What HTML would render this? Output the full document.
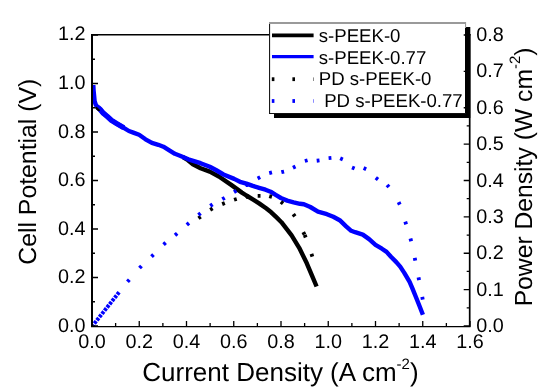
<!DOCTYPE html>
<html><head><meta charset="utf-8"><title>Fuel cell polarization curve</title>
<style>html,body{margin:0;padding:0;background:#fff;width:550px;height:392px;overflow:hidden}svg{display:block;will-change:transform}text{font-family:"Liberation Sans",sans-serif;fill:#000;text-rendering:geometricPrecision}</style>
</head><body>
<svg width="550" height="392" viewBox="0 0 550 392">
<rect width="550" height="392" fill="#fff"/>
<polyline points="183.0,157.1 188.0,160.2 192.9,164.2 200.6,168.2 209.8,171.6 218.9,176.5 231.2,184.9 241.9,192.6 246.4,195.5 252.8,199.4 259.1,203.4 266.1,208.3 271.2,212.3 276.3,217.2 281.4,222.2 286.6,228.8 291.6,235.4 299.2,247.8 306.8,263.3 311.9,275.3 316.6,286.5" fill="none" stroke="#000" stroke-width="4.4" stroke-linejoin="round" stroke-linecap="butt"/>
<circle cx="247.3" cy="197.3" r="1.5" fill="#000"/>
<polyline points="93.3,85.0 93.6,90.6 94.1,95.6 94.6,101.2 95.8,104.8 97.7,107.2 100.2,109.5 103.3,113.2 107.3,116.5 111.4,120.3 116.5,123.5 120.8,126.0 123.8,127.8 128.9,131.0 134.0,132.9 139.1,134.8 145.5,139.3 151.9,142.9 158.3,144.8 163.4,146.7 168.5,149.9 174.9,153.8 180.0,155.7 188.3,159.3 200.6,163.2 209.8,166.8 215.9,170.0 223.5,174.5 234.2,178.9 240.0,181.8 246.4,183.6 252.8,185.9 259.1,187.8 265.5,189.7 270.6,191.7 275.7,194.9 280.9,198.0 287.2,200.6 293.6,202.3 300.0,203.8 303.9,204.2 310.3,207.0 318.0,211.7 326.9,214.2 333.3,216.8 339.7,220.2 346.1,226.3 351.2,230.8 355.1,232.2 362.8,234.6 369.1,239.1 375.5,244.9 381.9,248.7 386.6,251.9 391.2,257.0 396.3,262.1 400.2,266.6 404.3,272.9 409.6,281.9 412.3,288.1 415.9,297.0 419.5,306.0 422.9,314.7" fill="none" stroke="#0000ff" stroke-width="4.4" stroke-linejoin="round" stroke-linecap="butt"/>
<circle cx="246.9" cy="185.4" r="1.5" fill="#0000ff"/>
<polyline points="97.7,107.2 100.2,109.5 103.3,113.2 107.3,116.5 111.4,120.3 116.5,123.5 120.8,126.0 123.8,127.8" fill="none" stroke="#0000ff" stroke-width="5.4" stroke-linejoin="round" stroke-linecap="butt"/>
<line x1="96.2" y1="107.9" x2="98.8" y2="110.2" stroke="#000" stroke-width="2.2" stroke-linecap="round"/>
<rect x="198.20" y="215.60" width="2.80" height="3.80" fill="#000" transform="rotate(-35.4 199.60 217.50)"/>
<rect x="210.00" y="207.20" width="2.80" height="3.80" fill="#000" transform="rotate(-30.2 211.40 209.10)"/>
<rect x="222.10" y="201.70" width="2.80" height="3.80" fill="#000" transform="rotate(-22.0 223.50 203.60)"/>
<rect x="234.00" y="197.50" width="2.80" height="3.80" fill="#000" transform="rotate(-16.1 235.40 199.40)"/>
<rect x="246.30" y="194.70" width="2.80" height="3.80" fill="#000" transform="rotate(-8.4 247.70 196.60)"/>
<rect x="257.70" y="194.00" width="2.80" height="3.80" fill="#000" transform="rotate(-0.3 259.10 195.90)"/>
<rect x="269.20" y="194.60" width="2.80" height="3.80" fill="#000" transform="rotate(16.5 270.60 196.50)"/>
<rect x="280.60" y="200.80" width="2.80" height="3.80" fill="#000" transform="rotate(38.5 282.00 202.70)"/>
<rect x="292.70" y="213.30" width="2.80" height="3.80" fill="#000" transform="rotate(54.5 294.10 215.20)"/>
<rect x="302.50" y="231.50" width="2.80" height="3.80" fill="#000" transform="rotate(62.1 303.90 233.40)"/>
<rect x="303.80" y="234.30" width="2.80" height="3.80" fill="#000" transform="rotate(69.8 305.20 236.20)"/>
<rect x="310.50" y="253.30" width="2.80" height="3.80" fill="#000" transform="rotate(70.6 311.90 255.20)"/>
<line x1="119.1" y1="292.2" x2="93.0" y2="325.2" stroke="#0000ff" stroke-width="3.9" stroke-dasharray="3.0 1.1"/>
<rect x="127.00" y="278.80" width="2.80" height="3.80" fill="#0000ff" transform="rotate(-48.5 128.40 280.70)"/>
<rect x="139.10" y="265.10" width="2.80" height="3.80" fill="#0000ff" transform="rotate(-46.1 140.50 267.00)"/>
<rect x="151.10" y="253.80" width="2.80" height="3.80" fill="#0000ff" transform="rotate(-44.2 152.50 255.70)"/>
<rect x="163.20" y="241.70" width="2.80" height="3.80" fill="#0000ff" transform="rotate(-42.2 164.60 243.60)"/>
<rect x="174.70" y="232.40" width="2.80" height="3.80" fill="#0000ff" transform="rotate(-40.2 176.10 234.30)"/>
<rect x="186.50" y="222.00" width="2.80" height="3.80" fill="#0000ff" transform="rotate(-40.8 187.90 223.90)"/>
<rect x="198.10" y="212.20" width="2.80" height="3.80" fill="#0000ff" transform="rotate(-38.5 199.50 214.10)"/>
<rect x="210.00" y="203.30" width="2.80" height="3.80" fill="#0000ff" transform="rotate(-33.0 211.40 205.20)"/>
<rect x="222.10" y="196.60" width="2.80" height="3.80" fill="#0000ff" transform="rotate(-30.1 223.50 198.50)"/>
<rect x="233.80" y="189.50" width="2.80" height="3.80" fill="#0000ff" transform="rotate(-30.8 235.20 191.40)"/>
<rect x="245.40" y="182.70" width="2.80" height="3.80" fill="#0000ff" transform="rotate(-29.8 246.80 184.60)"/>
<rect x="257.50" y="175.90" width="2.80" height="3.80" fill="#0000ff" transform="rotate(-26.6 258.90 177.80)"/>
<rect x="269.20" y="170.80" width="2.80" height="3.80" fill="#0000ff" transform="rotate(-13.9 270.60 172.70)"/>
<rect x="281.30" y="170.00" width="2.80" height="3.80" fill="#0000ff" transform="rotate(-13.3 282.70 171.90)"/>
<rect x="292.80" y="165.20" width="2.80" height="3.80" fill="#0000ff" transform="rotate(-25.7 294.20 167.10)"/>
<rect x="304.80" y="158.70" width="2.80" height="3.80" fill="#0000ff" transform="rotate(-15.2 306.20 160.60)"/>
<rect x="316.70" y="158.70" width="2.80" height="3.80" fill="#0000ff" transform="rotate(-6.2 318.10 160.60)"/>
<rect x="328.60" y="156.10" width="2.80" height="3.80" fill="#0000ff" transform="rotate(-4.2 330.00 158.00)"/>
<rect x="340.10" y="157.00" width="2.80" height="3.80" fill="#0000ff" transform="rotate(23.2 341.50 158.90)"/>
<rect x="351.90" y="166.10" width="2.80" height="3.80" fill="#0000ff" transform="rotate(22.5 353.30 168.00)"/>
<rect x="363.50" y="166.70" width="2.80" height="3.80" fill="#0000ff" transform="rotate(24.4 364.90 168.60)"/>
<rect x="375.50" y="176.80" width="2.80" height="3.80" fill="#0000ff" transform="rotate(37.0 376.90 178.70)"/>
<rect x="386.60" y="184.10" width="2.80" height="3.80" fill="#0000ff" transform="rotate(47.9 388.00 186.00)"/>
<rect x="397.80" y="201.50" width="2.80" height="3.80" fill="#0000ff" transform="rotate(64.4 399.20 203.40)"/>
<rect x="404.30" y="221.10" width="2.80" height="3.80" fill="#0000ff" transform="rotate(72.3 405.70 223.00)"/>
<rect x="409.40" y="237.90" width="2.80" height="3.80" fill="#0000ff" transform="rotate(75.6 410.80 239.80)"/>
<rect x="413.60" y="257.40" width="2.80" height="3.80" fill="#0000ff" transform="rotate(78.4 415.00 259.30)"/>
<rect x="417.40" y="276.80" width="2.80" height="3.80" fill="#0000ff" transform="rotate(79.1 418.80 278.70)"/>
<rect x="421.10" y="296.30" width="2.80" height="3.80" fill="#0000ff" transform="rotate(79.3 422.50 298.20)"/>
<path d="M91,34.75 H470.5" stroke="#000" stroke-width="1.5" fill="none"/>
<path d="M92,34 V327.1" stroke="#000" stroke-width="2" fill="none"/>
<path d="M469.7,34 V327.1" stroke="#000" stroke-width="1.7" fill="none"/>
<path d="M91,326.5 H470.5" stroke="#000" stroke-width="1.25" fill="none"/>
<rect x="274" y="27" width="196.3" height="91" fill="#000"/>
<rect x="269" y="22" width="196" height="91" fill="#fff"/>
<rect x="269" y="22" width="1.1" height="92" fill="#1a1a1a"/>
<rect x="269" y="113" width="197" height="1" fill="#111"/>
<rect x="269" y="22" width="197" height="2" fill="#9a9a9a"/>
<rect x="465" y="22" width="1.1" height="6" fill="#9a9a9a"/>
<path d="M92.00,326 V321.00 M115.62,326 V323.00 M139.25,326 V321.00 M162.88,326 V323.00 M186.50,326 V321.00 M210.12,326 V323.00 M233.75,326 V321.00 M257.38,326 V323.00 M281.00,326 V321.00 M304.62,326 V323.00 M328.25,326 V321.00 M351.88,326 V323.00 M375.50,326 V321.00 M399.12,326 V323.00 M422.75,326 V321.00 M446.38,326 V323.00 M470.00,326 V321.00 M92,326.00 H98.00 M92,301.75 H95.00 M92,277.50 H98.00 M92,253.25 H95.00 M92,229.00 H98.00 M92,204.75 H95.00 M92,180.50 H98.00 M92,156.25 H95.00 M92,132.00 H98.00 M92,107.75 H95.00 M92,83.50 H98.00 M92,59.25 H95.00 M92,35.00 H98.00 M469.7,326.00 H463.70 M469.7,307.81 H466.70 M469.7,289.62 H463.70 M469.7,271.44 H466.70 M469.7,253.25 H463.70 M469.7,235.06 H466.70 M469.7,216.88 H463.70 M469.7,198.69 H466.70 M469.7,180.50 H463.70 M469.7,162.31 H466.70 M469.7,144.12 H463.70 M469.7,125.94 H466.70 M469.7,107.75 H463.70 M469.7,89.56 H466.70 M469.7,71.38 H463.70 M469.7,53.19 H466.70 M469.7,35.00 H463.70" stroke="#000" stroke-width="1.3" fill="none"/>
<line x1="272" y1="35.4" x2="313.6" y2="35.4" stroke="#000" stroke-width="3.8"/>
<line x1="272" y1="56.6" x2="313.6" y2="56.6" stroke="#0000ff" stroke-width="3.2"/>
<rect x="271.8" y="77.3" width="2.6" height="3.8" fill="#000"/>
<rect x="292.4" y="77.3" width="2.6" height="3.8" fill="#000"/>
<rect x="313.0" y="77.4" width="1" height="3.6" fill="#000" opacity="0.45"/>
<rect x="271.8" y="99.1" width="2.6" height="3.8" fill="#0000ff"/>
<rect x="292.4" y="99.1" width="2.6" height="3.8" fill="#0000ff"/>
<rect x="313.0" y="99.2" width="1" height="3.6" fill="#0000ff" opacity="0.45"/>
<g transform="rotate(0.01 275 196)">
<text x="318.80" y="41.70" font-size="18.60" text-anchor="start" font-family="'Liberation Sans', sans-serif" >s-PEEK-0</text>
<text x="318.80" y="63.50" font-size="18.60" text-anchor="start" font-family="'Liberation Sans', sans-serif" >s-PEEK-0.77</text>
<text x="318.80" y="85.40" font-size="18.60" text-anchor="start" font-family="'Liberation Sans', sans-serif" >PD s-PEEK-0</text>
<text x="324.20" y="107.40" font-size="18.60" text-anchor="start" font-family="'Liberation Sans', sans-serif" >PD s-PEEK-0.77</text>
<text x="85.60" y="332.00" font-size="19.80" text-anchor="end" font-family="'Liberation Sans', sans-serif" >0.0</text>
<text x="85.60" y="283.40" font-size="19.80" text-anchor="end" font-family="'Liberation Sans', sans-serif" >0.2</text>
<text x="85.60" y="234.80" font-size="19.80" text-anchor="end" font-family="'Liberation Sans', sans-serif" >0.4</text>
<text x="85.60" y="186.20" font-size="19.80" text-anchor="end" font-family="'Liberation Sans', sans-serif" >0.6</text>
<text x="85.60" y="137.60" font-size="19.80" text-anchor="end" font-family="'Liberation Sans', sans-serif" >0.8</text>
<text x="85.60" y="89.00" font-size="19.80" text-anchor="end" font-family="'Liberation Sans', sans-serif" >1.0</text>
<text x="85.60" y="40.40" font-size="19.80" text-anchor="end" font-family="'Liberation Sans', sans-serif" >1.2</text>
<text x="92.00" y="347.60" font-size="19.80" text-anchor="middle" font-family="'Liberation Sans', sans-serif" >0.0</text>
<text x="139.25" y="347.60" font-size="19.80" text-anchor="middle" font-family="'Liberation Sans', sans-serif" >0.2</text>
<text x="186.50" y="347.60" font-size="19.80" text-anchor="middle" font-family="'Liberation Sans', sans-serif" >0.4</text>
<text x="233.75" y="347.60" font-size="19.80" text-anchor="middle" font-family="'Liberation Sans', sans-serif" >0.6</text>
<text x="281.00" y="347.60" font-size="19.80" text-anchor="middle" font-family="'Liberation Sans', sans-serif" >0.8</text>
<text x="328.25" y="347.60" font-size="19.80" text-anchor="middle" font-family="'Liberation Sans', sans-serif" >1.0</text>
<text x="375.50" y="347.60" font-size="19.80" text-anchor="middle" font-family="'Liberation Sans', sans-serif" >1.2</text>
<text x="422.75" y="347.60" font-size="19.80" text-anchor="middle" font-family="'Liberation Sans', sans-serif" >1.4</text>
<text x="470.00" y="347.60" font-size="19.80" text-anchor="middle" font-family="'Liberation Sans', sans-serif" >1.6</text>
<text x="476.20" y="332.20" font-size="19.80" text-anchor="start" font-family="'Liberation Sans', sans-serif" >0.0</text>
<text x="476.20" y="295.79" font-size="19.80" text-anchor="start" font-family="'Liberation Sans', sans-serif" >0.1</text>
<text x="476.20" y="259.38" font-size="19.80" text-anchor="start" font-family="'Liberation Sans', sans-serif" >0.2</text>
<text x="476.20" y="222.96" font-size="19.80" text-anchor="start" font-family="'Liberation Sans', sans-serif" >0.3</text>
<text x="476.20" y="186.55" font-size="19.80" text-anchor="start" font-family="'Liberation Sans', sans-serif" >0.4</text>
<text x="476.20" y="150.14" font-size="19.80" text-anchor="start" font-family="'Liberation Sans', sans-serif" >0.5</text>
<text x="476.20" y="113.72" font-size="19.80" text-anchor="start" font-family="'Liberation Sans', sans-serif" >0.6</text>
<text x="476.20" y="77.31" font-size="19.80" text-anchor="start" font-family="'Liberation Sans', sans-serif" >0.7</text>
<text x="476.20" y="40.90" font-size="19.80" text-anchor="start" font-family="'Liberation Sans', sans-serif" >0.8</text>
<text x="142.3" y="380.9" font-size="26.00" font-family="'Liberation Sans', sans-serif">Current Density (A cm<tspan font-size="15" dy="-11.5">-2</tspan><tspan dy="11.5">)</tspan></text>
<text transform="translate(36.2,264.8) rotate(-90)" font-size="24.80" font-family="'Liberation Sans', sans-serif">Cell Potential (V)</text>
<text transform="translate(532,306.3) rotate(-90)" font-size="24.70" font-family="'Liberation Sans', sans-serif">Power Density (W cm<tspan font-size="15" dy="-12.3">-2</tspan><tspan dy="12.3">)</tspan></text>
</g>
</svg>
</body></html>
